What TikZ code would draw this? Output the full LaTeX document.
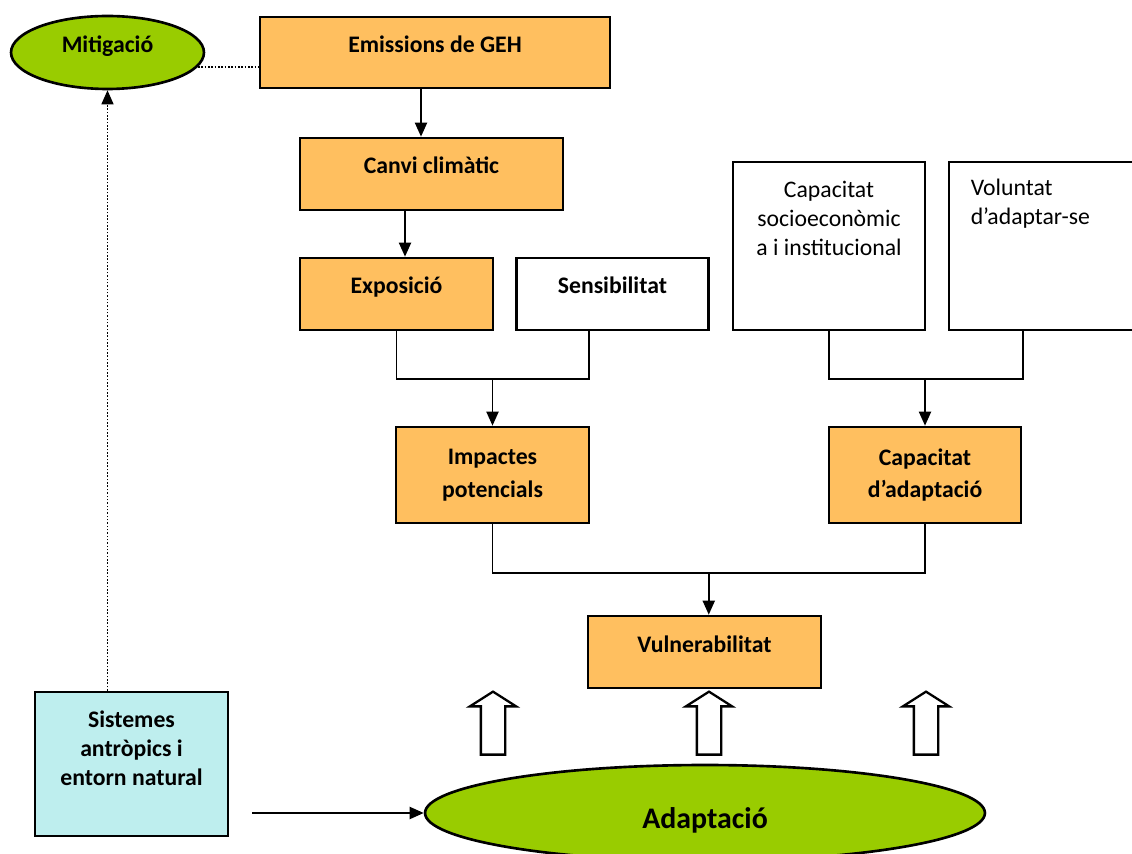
\documentclass[tikz,border=0pt]{standalone}
\usepackage{fontspec}
\setmainfont{Carlito}
\usepackage{tikz}
\usetikzlibrary{shapes.geometric, shapes.arrows, arrows.meta, positioning, calc}
\usepackage{xcolor}
\definecolor{boxorange}{RGB}{255, 191, 95}
\definecolor{leafgreen}{RGB}{153, 204, 0}
\definecolor{paleaqua}{RGB}{190, 238, 238}
\tikzstyle{ob} = [rectangle, draw=black, line width=1.5pt, fill=boxorange, align=center, font=\fontsize{13.5}{18.5}\selectfont\bfseries]
\tikzstyle{lift} = [text height=0.3cm, text depth=0.3cm]
\tikzstyle{wb} = [rectangle, draw=black, line width=1.3pt, fill=white, minimum width=3.84cm, minimum height=3.36cm, font=\fontsize{13.5}{16.5}\selectfont]
\tikzstyle{oval} = [ellipse, draw=black, line width=1.5pt, fill=leafgreen, font=\fontsize{13.5}{16.5}\selectfont\bfseries]
\tikzstyle{hollow} = [single arrow, draw=black, line width=1.3pt, fill=white, shape border rotate=90, inner sep=0.22cm, minimum height=1.26cm, single arrow head extend=0.22cm, single arrow tip angle=115]
\tikzstyle{line} = [line width=1.1pt]
\tikzstyle{arrow} = [line width=1.1pt, -{Triangle[length=0.28cm, width=0.24cm]}]
\tikzstyle{dotline} = [line width=0.9pt, densely dotted]
\tikzstyle{dotarrow} = [line width=0.9pt, densely dotted, -{Triangle[length=0.28cm, width=0.24cm]}]

\begin{document}
\begin{tikzpicture}[x=0.02cm, y=-0.02cm]
    \path[use as bounding box, clip] (0,0) rectangle (1132,854);

    % Causes (top chain)
    \node (emis) [ob, lift, minimum width=7cm, minimum height=1.42cm] at (435,52.5) {Emissions de GEH};
    \node (canvi) [ob, lift, minimum width=5.26cm, minimum height=1.44cm] at (431.5,174) {Canvi climàtic};
    \node (expo) [ob, lift, minimum width=3.86cm, minimum height=1.44cm] at (396.5,294) {Exposició};
    \node (sens) [ob, lift, fill=white, line width=1.3pt, minimum width=3.84cm, minimum height=1.44cm, right=0.42cm of expo] {Sensibilitat};

    % Adaptive capacity inputs
    \node (capsoc) [wb, align=center, text height=0.42cm, text depth=0.04cm] at (829,246) {Capacitat\\socioeconòmic\\a i institucional};
    \node (vol) [wb, align=left, text width=2.96cm, inner xsep=0.44cm, text height=0.35cm, text depth=2.37cm, right=0.43cm of capsoc] {Voluntat\\d’adaptar-se};

    % Intermediate results
    \node (imp) [ob, minimum width=3.86cm, minimum height=1.92cm] at (492.5,475) {Impactes\\potencials};
    \node (capad) [ob, minimum width=3.84cm, minimum height=1.92cm] at (925,475) {Capacitat\\d’adaptació};
    \node (vul) [ob, lift, minimum width=4.66cm, minimum height=1.44cm] at (704.5,652) {Vulnerabilitat};

    % Responses
    \node (mit) [oval, lift, minimum width=3.86cm, minimum height=1.46cm] at (107.5,52.5) {Mitigació};
    \node (ada) [oval, font=\fontsize{17}{20}\selectfont\bfseries, text height=0.6cm, text depth=0cm, minimum width=11.2cm, minimum height=1.92cm] at (705,813) {Adaptació};
    \node (sis) [ob, fill=paleaqua, font=\fontsize{13.5}{16.5}\selectfont\bfseries, text height=0.9cm, text depth=0.04cm, minimum width=3.86cm, minimum height=2.88cm] at (131.5,764) {Sistemes\\antròpics i\\entorn natural};

    % Hollow arrows
    \node (up1) [hollow] at (493,727) {};
    \node (up2) [hollow] at (709,727) {};
    \node (up3) [hollow] at (926,727) {};

    % Arrows & joins
    \coordinate (e1) at ([xshift=-0.28cm]emis.south);
    \coordinate (c1) at ([xshift=-0.53cm]canvi.south);
    \draw [arrow] (e1) -- (e1 |- canvi.north);
    \draw [arrow] (c1) -- (c1 |- expo.north);

    \draw [line] (expo.south) -- ++(0,48) coordinate (j1) -| ([xshift=-0.46cm]sens.south);
    \draw [arrow] (j1 -| imp.north) -- (imp.north);

    \draw [line] (capsoc.south) -- ++(0,48) coordinate (j2) -| ([xshift=-0.44cm]vol.south);
    \draw [arrow] (j2 -| capad.north) -- (capad.north);

    \draw [line] (imp.south) -- ++(0,49) coordinate (j3) -| (capad.south);
    \coordinate (j4) at ($(j3)!0.5!(j3 -| capad.south)$);
    \draw [arrow] (j4) -- (j4 |- vul.north);

    \draw [dotline] (mit.-9) -- (mit.-9 -| emis.west);
    \draw [dotarrow] (sis.north -| mit.south) -- (mit.south);

    \coordinate (sisout) at (252,813);
    \draw [arrow] (sisout) -- (ada.west);

\end{tikzpicture}
\end{document}
